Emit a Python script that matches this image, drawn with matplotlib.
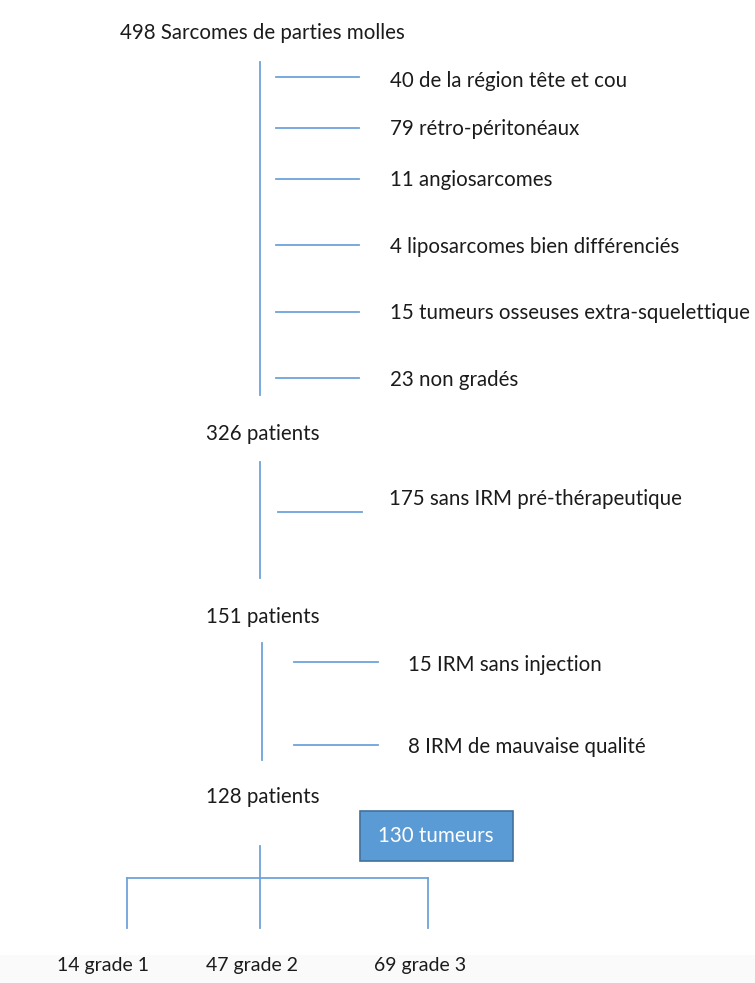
import matplotlib
matplotlib.use("Agg")
import matplotlib.pyplot as plt
from matplotlib.patches import Rectangle

plt.rcParams['font.family'] = ['Lato', 'DejaVu Sans']

# data: flow of patients
start_label = "498 Sarcomes de parties molles"
excl_1 = ["40 de la région tête et cou", "79 rétro-péritonéaux", "11 angiosarcomes",
          "4 liposarcomes bien différenciés", "15 tumeurs osseuses extra-squelettique",
          "23 non gradés"]
excl_1_y = [81, 129, 180, 247, 313, 380]
step_labels = ["326 patients", "151 patients", "128 patients"]
step_y = [434, 617, 797]
excl_2 = ["175 sans IRM pré-thérapeutique"]
excl_3 = ["15 IRM sans injection", "8 IRM de mauvaise qualité"]
box_label = "130 tumeurs"
grades = ["14 grade 1", "47 grade 2", "69 grade 3"]
grade_x = [57, 206, 374]

line_c = '#6ea2da'
txt_c = '#1b1b1b'
fs = 14.8

fig = plt.figure(figsize=(7.55, 9.83), dpi=100)
ax = fig.add_axes([0, 0, 1, 1])
ax.set_xlim(0, 755)
ax.set_ylim(983, 0)
ax.axis('off')

# faint band at the bottom
ax.add_patch(Rectangle((0, 955), 755, 28, color='#fafafa', lw=0, zorder=0))

ax.text(120, 33, start_label, fontsize=fs, color=txt_c, va='center')

# first block of exclusions
ax.plot([260, 260], [62, 395], color=line_c, lw=1.3)
for i, lab in enumerate(excl_1):
    yy = [77, 128, 179, 245, 312, 378][i]
    ax.plot([276, 359], [yy, yy], color=line_c, lw=1.3)
    ax.text(390, excl_1_y[i], lab, fontsize=fs, color=txt_c, va='center')

for lab, yy in zip(step_labels, step_y):
    ax.text(206, yy, lab, fontsize=fs, color=txt_c, va='center')

# second block
ax.plot([260, 260], [462, 578], color=line_c, lw=1.3)
ax.plot([278, 362], [512, 512], color=line_c, lw=1.3)
ax.text(389, 499, excl_2[0], fontsize=fs, color=txt_c, va='center')

# third block
ax.plot([262, 262], [643, 760], color=line_c, lw=1.3)
for yy, ty, lab in zip([662, 745], [665, 747], excl_3):
    ax.plot([294, 378], [yy, yy], color=line_c, lw=1.3)
    ax.text(408, ty, lab, fontsize=fs, color=txt_c, va='center')

# box
ax.add_patch(Rectangle((360, 811), 153, 50, facecolor='#5b9bd5', edgecolor='#41719c', lw=1.2))
ax.text(436, 836, box_label, fontsize=fs, color='white', ha='center', va='center')

# tree to grades
ax.plot([260, 260], [846, 928], color=line_c, lw=1.3)
ax.plot([127, 428], [878, 878], color=line_c, lw=1.3)
for xx in [127, 428]:
    ax.plot([xx, xx], [878, 928], color=line_c, lw=1.3)
for lab, xx in zip(grades, grade_x):
    ax.text(xx, 966, lab, fontsize=14, color=txt_c, va='center')

fig.savefig('out.png', dpi=100)
